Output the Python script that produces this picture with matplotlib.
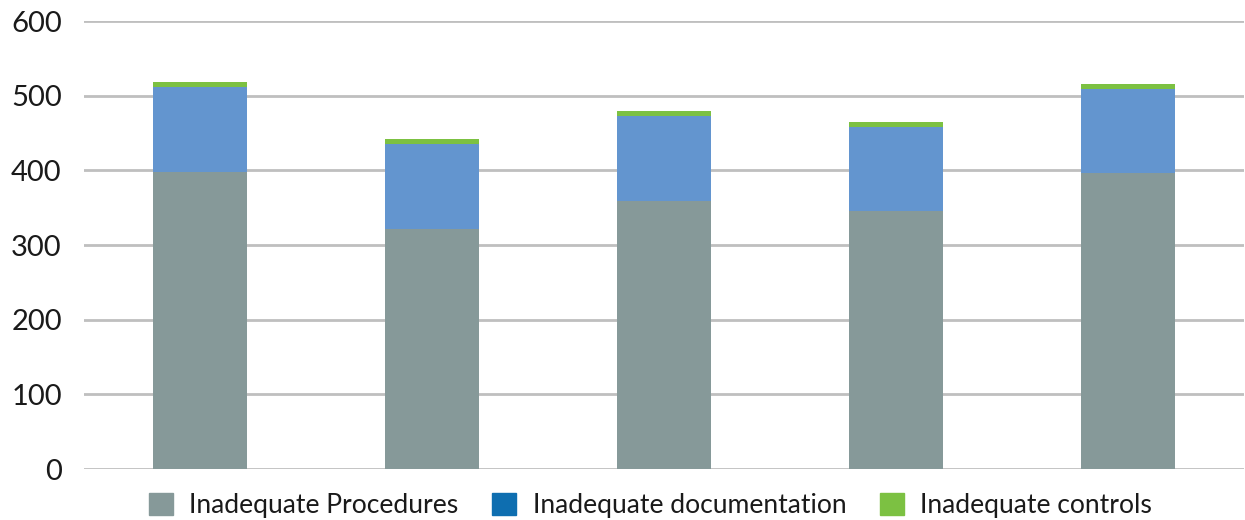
import matplotlib
matplotlib.use("Agg")
import matplotlib.pyplot as plt
from matplotlib.patches import Patch
import numpy as np

categories = ["1", "2", "3", "4", "5"]
procedures = [398, 321, 359, 345, 396]
documentation = [114, 114, 114, 113, 113]
controls = [6.5, 6.5, 6.5, 6.5, 6.5]
series_names = ["Inadequate Procedures", "Inadequate documentation", "Inadequate controls"]
yticks = [0, 100, 200, 300, 400, 500, 600]

plt.rcParams['font.family'] = ['Lato', 'DejaVu Sans']

fig = plt.figure(figsize=(12.45, 5.2), dpi=100)
ax = fig.add_axes([84/1245, 51/520, 1160/1245, 448/520])

x = np.arange(len(categories))
w = 0.405
c_proc = "#869999"
c_doc = "#6395cf"
c_ctrl = "#7cc142"
ax.bar(x, procedures, w, color=c_proc, zorder=3)
ax.bar(x, documentation, w, bottom=procedures, color=c_doc, zorder=3)
bottom2 = np.array(procedures) + np.array(documentation)
ax.bar(x, controls, w, bottom=bottom2, color=c_ctrl, zorder=3)

ax.set_xlim(-0.5, len(categories) - 0.5)
ax.set_ylim(0, 600)
ax.set_yticks(yticks)
ax.set_yticklabels([str(v) for v in yticks], fontsize=21, color="#1a1a1a")
ax.set_xticks([])
ax.tick_params(axis='y', length=0, pad=16)
for s in ax.spines.values():
    s.set_visible(False)
ax.yaxis.grid(True, color="#bfbfbf", linewidth=2, zorder=0)
ax.set_axisbelow(True)

handles = [Patch(color=c_proc), Patch(color="#0e6eb0"), Patch(color=c_ctrl)]
fig.legend(handles, series_names, loc="lower center", bbox_to_anchor=(0.5225, -0.043),
           ncol=3, frameon=False, fontsize=19.1, handlelength=0.9, handleheight=0.9,
           handletextpad=0.62, columnspacing=1.27, labelcolor="#1a1a1a")

fig.savefig("out.png", dpi=100)
